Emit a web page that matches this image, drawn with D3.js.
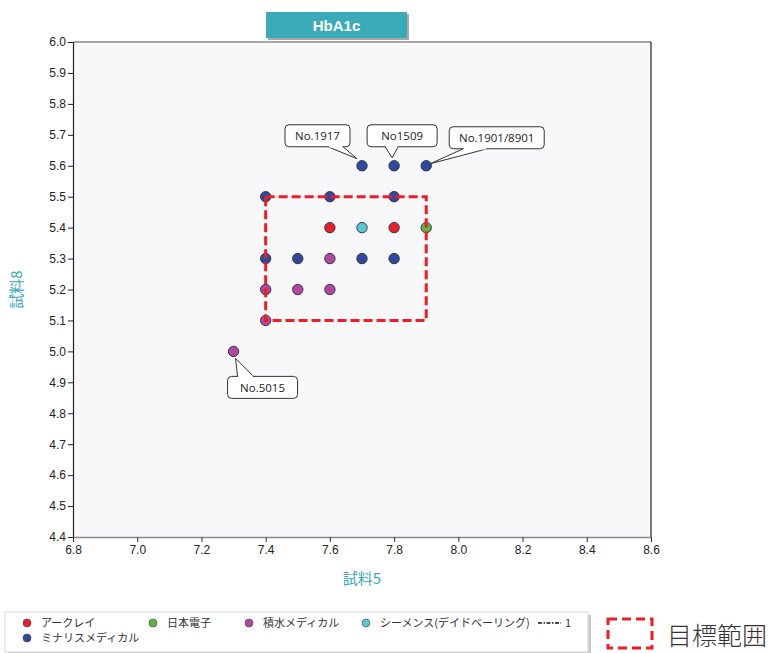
<!DOCTYPE html>
<html>
<head>
<meta charset="utf-8">
<script src="https://cdn.jsdelivr.net/npm/d3@7"></script>
<style>
  html, body { margin: 0; padding: 0; background: #ffffff; }
  svg { display: block; }
  text { font-family: "Noto Sans CJK JP", "Noto Sans", sans-serif; }
</style>
</head>
<body>
<svg id="chart" width="774" height="653"></svg>
<script>
// Laboratory survey: HbA1c results, sample 5 vs sample 8
const seriesNames = ["アークレイ", "ミナリスメディカル", "日本電子", "積水メディカル", "シーメンス(デイドベーリング)"];
const seriesColors = ["#e5222b", "#2f4a9c", "#5db648", "#b1479f", "#5bc6d6"];

const arkrayX = [7.6, 7.8];
const arkrayY = [5.4, 5.4];
const minarisX = [7.7, 7.8, 7.9, 7.4, 7.6, 7.8, 7.4, 7.5, 7.7, 7.8];
const minarisY = [5.6, 5.6, 5.6, 5.5, 5.5, 5.5, 5.3, 5.3, 5.3, 5.3];
const jeolX = [7.9];
const jeolY = [5.4];
const sekisuiX = [7.6, 7.4, 7.5, 7.6, 7.4, 7.3];
const sekisuiY = [5.3, 5.2, 5.2, 5.2, 5.1, 5.0];
const siemensX = [7.7];
const siemensY = [5.4];

const xTicks = [6.8, 7.0, 7.2, 7.4, 7.6, 7.8, 8.0, 8.2, 8.4, 8.6];
const yTicks = [4.4, 4.5, 4.6, 4.7, 4.8, 4.9, 5.0, 5.1, 5.2, 5.3, 5.4, 5.5, 5.6, 5.7, 5.8, 5.9, 6.0];

// Target range (sample 5 on x, sample 8 on y)
const targetX = [7.4, 7.9];
const targetY = [5.1, 5.5];

// Labelled outliers
const calloutText = ["No.1917", "No1509", "No.1901/8901", "No.5015"];
const calloutX = [7.7, 7.8, 7.9, 7.3];
const calloutY = [5.6, 5.6, 5.6, 5.0];

const seriesX = [arkrayX, minarisX, jeolX, sekisuiX, siemensX];
const seriesY = [arkrayY, minarisY, jeolY, sekisuiY, siemensY];

const svg = d3.select("#chart");
const m = { left: 73, right: 651, top: 42, bottom: 537 };

const x = d3.scaleLinear().domain([6.8, 8.6]).range([m.left, m.right]);
const y = d3.scaleLinear().domain([4.4, 6.0]).range([m.bottom, m.top]);

// Plot background
svg.append("rect")
  .attr("x", m.left).attr("y", m.top)
  .attr("width", m.right - m.left).attr("height", m.bottom - m.top)
  .attr("fill", "#f8f8fa");

// Frame: lighter top/bottom edges, darker left/right
svg.append("line").attr("x1", m.left).attr("x2", m.right).attr("y1", m.top).attr("y2", m.top)
  .attr("stroke", "#8a8a8a").attr("stroke-width", 1.5);
svg.append("line").attr("x1", m.right).attr("x2", m.right).attr("y1", m.top).attr("y2", m.bottom)
  .attr("stroke", "#222").attr("stroke-width", 1.2);

// Axes
const yAxis = svg.append("g")
  .attr("transform", `translate(${m.left},0)`)
  .call(d3.axisLeft(y).tickValues(yTicks).tickFormat(d3.format(".1f")).tickSize(5).tickSizeOuter(0));
const xAxis = svg.append("g")
  .attr("transform", `translate(0,${m.bottom})`)
  .call(d3.axisBottom(x).tickValues(xTicks).tickFormat(d3.format(".1f")).tickSize(5).tickSizeOuter(0));

yAxis.select(".domain").attr("stroke", "#222").attr("stroke-width", 1.2);
yAxis.selectAll(".tick line").attr("stroke", "#222");
xAxis.select(".domain").attr("stroke", "#8a8a8a").attr("stroke-width", 1.5);
xAxis.selectAll(".tick line").attr("stroke", "#333");
[yAxis, xAxis].forEach(a => a.selectAll(".tick text")
  .attr("fill", "#222").style("font-size", "12px")
  .style("font-family", "'Liberation Sans', Arial, sans-serif"));
yAxis.selectAll(".tick text").attr("x", -7);
xAxis.selectAll(".tick text").attr("y", 8);

// Axis titles
svg.append("text")
  .attr("x", (m.left + m.right) / 2).attr("y", 584)
  .attr("text-anchor", "middle")
  .attr("fill", "#3aa6b9").style("font-size", "15px")
  .text("試料5");
svg.append("text")
  .attr("transform", `translate(22,${(m.top + m.bottom) / 2}) rotate(-90)`)
  .attr("text-anchor", "middle")
  .attr("fill", "#3aa6b9").style("font-size", "15px")
  .text("試料8");

// Points
const pts = [];
seriesX.forEach((xs, i) => xs.forEach((v, j) => pts.push({ s: i, x: v, y: seriesY[i][j] })));
svg.append("g").selectAll("circle")
  .data(pts).join("circle")
  .attr("cx", d => x(d.x)).attr("cy", d => y(d.y))
  .attr("r", 5.2)
  .attr("fill", d => seriesColors[d.s])
  .attr("stroke", "#2a2a3a").attr("stroke-width", 0.9);

// Target range rectangle
svg.append("rect")
  .attr("x", x(targetX[0])).attr("y", y(targetY[1]))
  .attr("width", x(targetX[1]) - x(targetX[0]))
  .attr("height", y(targetY[0]) - y(targetY[1]))
  .attr("fill", "none")
  .attr("stroke", "#ee1c24").attr("stroke-width", 3)
  .attr("stroke-dasharray", "9,4");

// Callouts: box offset from its point, pointer base measured from the box's left edge
const calloutBox = [
  { dx: -77, dy: -41, w: 65, tip: [-5, -7], base: [43, 58] },
  { dx: -27, dy: -41, w: 70, tip: [-2, -8], base: [18, 31] },
  { dx: 23, dy: -39, w: 95, tip: [4, -2], base: [14, 38] },
  { dx: -6, dy: 25, w: 70, tip: [2, 7], base: [10, 26] }
];
const cg = svg.append("g");
calloutText.forEach((t, i) => {
  const px = x(calloutX[i]), py = y(calloutY[i]);
  const b = calloutBox[i];
  const bx = px + b.dx, by = py + b.dy, h = 22;
  const edgeY = b.dy < 0 ? by + h : by;
  const tipX = px + b.tip[0], tipY = py + b.tip[1];
  cg.append("rect")
    .attr("x", bx).attr("y", by).attr("width", b.w).attr("height", h)
    .attr("rx", 4).attr("fill", "#fff").attr("stroke", "#333").attr("stroke-width", 1);
  cg.append("path")
    .attr("d", `M${bx + b.base[0]},${edgeY} L${tipX},${tipY} L${bx + b.base[1]},${edgeY}`)
    .attr("fill", "#fff").attr("stroke", "#333").attr("stroke-width", 1);
  cg.append("line")
    .attr("x1", bx + b.base[0] + 0.8).attr("x2", bx + b.base[1] - 0.8)
    .attr("y1", edgeY).attr("y2", edgeY)
    .attr("stroke", "#fff").attr("stroke-width", 1.6);
  cg.append("text")
    .attr("x", bx + b.w / 2).attr("y", by + 15.5)
    .attr("text-anchor", "middle")
    .attr("fill", "#222").style("font-size", "11.5px")
    .style("font-family", "'Open Sans', 'Noto Sans', sans-serif")
    .text(t);
});

// Title badge
svg.append("rect").attr("x", 268).attr("y", 14).attr("width", 141).attr("height", 26).attr("fill", "#a8a8a8");
svg.append("rect").attr("x", 266).attr("y", 12).attr("width", 141).attr("height", 26).attr("fill", "#3aabb8");
svg.append("text")
  .attr("x", 336.5).attr("y", 30.5)
  .attr("text-anchor", "middle")
  .attr("fill", "#fff").style("font-size", "15px").style("font-weight", "bold")
  .style("font-family", "'Liberation Sans', Arial, sans-serif")
  .text("HbA1c");

// Legend box
svg.append("rect").attr("x", 8).attr("y", 615).attr("width", 583).attr("height", 40).attr("fill", "#c8c8c8");
svg.append("rect").attr("x", 5).attr("y", 612).attr("width", 583).attr("height", 40)
  .attr("fill", "#fff").attr("stroke", "#d8d8d8");

const legendPos = [[27, 623], [27, 638], [153, 623], [249, 623], [366, 623]];
const lg = svg.append("g");
seriesNames.forEach((n, i) => {
  const [lx, ly] = legendPos[i];
  lg.append("circle").attr("cx", lx).attr("cy", ly).attr("r", 4)
    .attr("fill", seriesColors[i]).attr("stroke", "#444").attr("stroke-width", 0.6);
  lg.append("text").attr("x", lx + 14).attr("y", ly + 4)
    .attr("fill", "#333").style("font-size", "11px").text(n);
});
lg.append("line").attr("x1", 538).attr("x2", 561).attr("y1", 623).attr("y2", 623)
  .attr("stroke", "#111").attr("stroke-width", 1.6).attr("stroke-dasharray", "4,1.5,1.5,1.5");
lg.append("text").attr("x", 565).attr("y", 627)
  .attr("fill", "#333").style("font-size", "11px").text("1");

// Target range key
svg.append("rect").attr("x", 608).attr("y", 619).attr("width", 44).attr("height", 29)
  .attr("fill", "none").attr("stroke", "#ee1c24").attr("stroke-width", 3)
  .attr("stroke-dasharray", "9,5");
svg.append("text").attr("x", 667).attr("y", 645)
  .attr("fill", "#333").style("font-size", "25px").style("font-weight", "300")
  .text("目標範囲");
</script>
</body>
</html>
